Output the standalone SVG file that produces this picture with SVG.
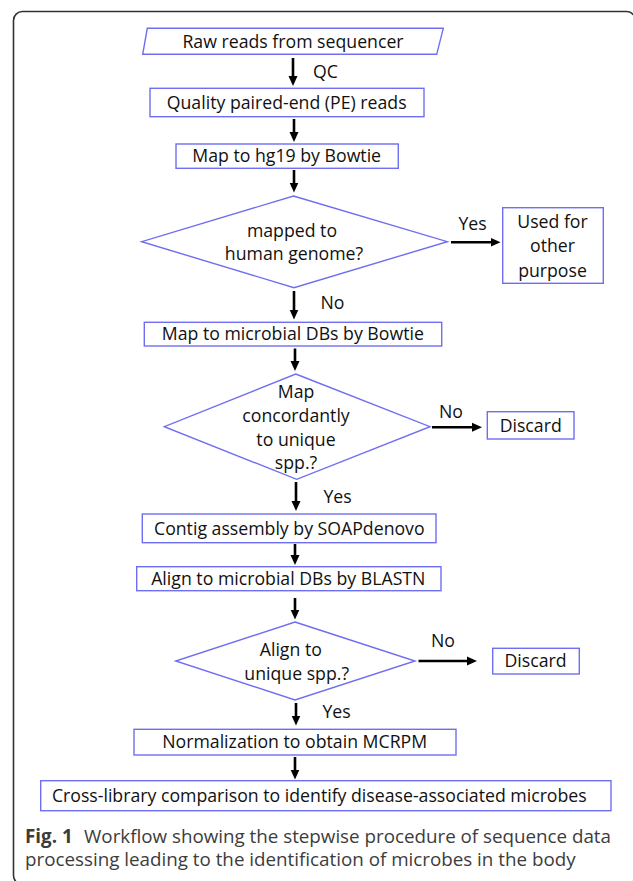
<svg xmlns="http://www.w3.org/2000/svg" width="633" height="881" viewBox="0 0 633 881">
<defs>
<marker id="ah" markerUnits="userSpaceOnUse" markerWidth="10" markerHeight="10" viewBox="0 0 10 10" refX="4" refY="5" orient="auto">
<path d="M0,0.5 L10,5 L0,9.5 z" fill="#000"/>
</marker>
<style>
.n{fill:#fff;stroke:#6e6ef2;stroke-width:1.4}
.t{font-family:"Open Sans","Noto Sans",sans-serif;font-size:17.7px;fill:#111;text-anchor:middle}
.c{stroke:#000;stroke-width:2.6;fill:none;marker-end:url(#ah)}
.cap{font-family:"Open Sans","Noto Sans",sans-serif;font-size:18.8px;fill:#3c3c3c}
</style>
</defs>
<rect width="633" height="881" fill="#fff"/>
<rect x="13.5" y="11.5" width="622" height="873" rx="9" fill="none" stroke="#333" stroke-width="1.6"/>

<g id="connectors">
<line class="c" x1="293" y1="58" x2="293" y2="80"/>
<line class="c" x1="294" y1="119" x2="294" y2="136"/>
<line class="c" x1="294" y1="170" x2="294" y2="186.5"/>
<line class="c" x1="294" y1="291" x2="294" y2="313.5"/>
<line class="c" x1="295" y1="348.5" x2="295" y2="365"/>
<line class="c" x1="296" y1="482" x2="296" y2="505"/>
<line class="c" x1="295" y1="544" x2="295" y2="559"/>
<line class="c" x1="295" y1="598" x2="295" y2="613.5"/>
<line class="c" x1="296" y1="703" x2="296" y2="719.5"/>
<line class="c" x1="295" y1="757" x2="295" y2="773.5"/>
<line class="c" x1="451" y1="242.3" x2="494.5" y2="242.3"/>
<line class="c" x1="432" y1="427.3" x2="476" y2="427.3"/>
<line class="c" x1="418.5" y1="661" x2="471" y2="661"/>
<text class="t" x="325.5" y="77.5">QC</text>
<text class="t" x="472.5" y="230">Yes</text>
<text class="t" x="332.5" y="309.3">No</text>
<text class="t" x="451" y="417.7">No</text>
<text class="t" x="337.5" y="502.7">Yes</text>
<text class="t" x="443" y="646.7">No</text>
<text class="t" x="336.5" y="717.7">Yes</text>
</g>

<g id="raw">
<polygon class="n" points="147.3,28.3 443.3,28.3 436.7,54.3 142.7,54.3"/>
<text class="t" x="293" y="47.7">Raw reads from sequencer</text>
</g>
<g id="pe">
<rect class="n" x="150" y="88.3" width="274" height="28.4"/>
<text class="t" x="286.7" y="108.7">Quality paired-end (PE) reads</text>
</g>
<g id="hg19">
<rect class="n" x="176" y="144" width="222.3" height="24.3"/>
<text class="t" x="286.7" y="162">Map to hg19 by Bowtie</text>
</g>
<g id="dec1">
<polygon class="n" points="293.5,196 447.3,241.7 294,287.7 141.7,241.7"/>
<text class="t" x="292" y="236.7">mapped to</text>
<text class="t" x="294" y="260">human genome?</text>
</g>
<g id="other">
<rect class="n" x="502.7" y="207.7" width="100.6" height="75.6"/>
<text class="t" x="552.5" y="227.7">Used for</text>
<text class="t" x="552.5" y="252.2">other</text>
<text class="t" x="552.5" y="276.5">purpose</text>
</g>
<g id="microbial">
<rect class="n" x="144.3" y="322.3" width="297.4" height="23.7"/>
<text class="t" x="292.8" y="340">Map to microbial DBs by Bowtie</text>
</g>
<g id="dec2">
<polygon class="n" points="295.7,374 430,426.7 296.7,479.3 164.3,426.7"/>
<text class="t" x="296" y="397.7">Map</text>
<text class="t" x="296" y="422">concordantly</text>
<text class="t" x="296" y="445.5">to unique</text>
<text class="t" x="296" y="469.3">spp.?</text>
</g>
<g id="discard1">
<rect class="n" x="487.3" y="411.7" width="86.7" height="27.3"/>
<text class="t" x="530.7" y="432">Discard</text>
</g>
<g id="contig">
<rect class="n" x="142.3" y="514" width="293.7" height="28.7"/>
<text class="t" x="289.3" y="535.3">Contig assembly by SOAPdenovo</text>
</g>
<g id="align">
<rect class="n" x="136.7" y="566.7" width="304.3" height="24"/>
<text class="t" x="288.3" y="585">Align to microbial DBs by BLASTN</text>
</g>
<g id="dec3">
<polygon class="n" points="295,622 415,661 295,700 175.7,661"/>
<text class="t" x="290.8" y="656">Align to</text>
<text class="t" x="296.7" y="679.5">unique spp.?</text>
</g>
<g id="discard2">
<rect class="n" x="492.7" y="648.3" width="86.6" height="25.7"/>
<text class="t" x="535.5" y="667">Discard</text>
</g>
<g id="norm">
<rect class="n" x="134" y="729.3" width="322" height="25.7"/>
<text class="t" x="294.7" y="747.7">Normalization to obtain MCRPM</text>
</g>
<g id="cross">
<rect class="n" x="40.7" y="780.7" width="570.3" height="30"/>
<text class="t" x="319.3" y="802">Cross-library comparison to identify disease-associated microbes</text>
</g>

<g id="caption">
<text class="cap" x="25" y="843" font-weight="700" fill="#2a2a2a">Fig. 1</text>
<text class="cap" x="84" y="843" textLength="527" lengthAdjust="spacing">Workflow showing the stepwise procedure of sequence data</text>
<text class="cap" x="25" y="865.5">processing leading to the identification of microbes in the body</text>
</g>
</svg>
